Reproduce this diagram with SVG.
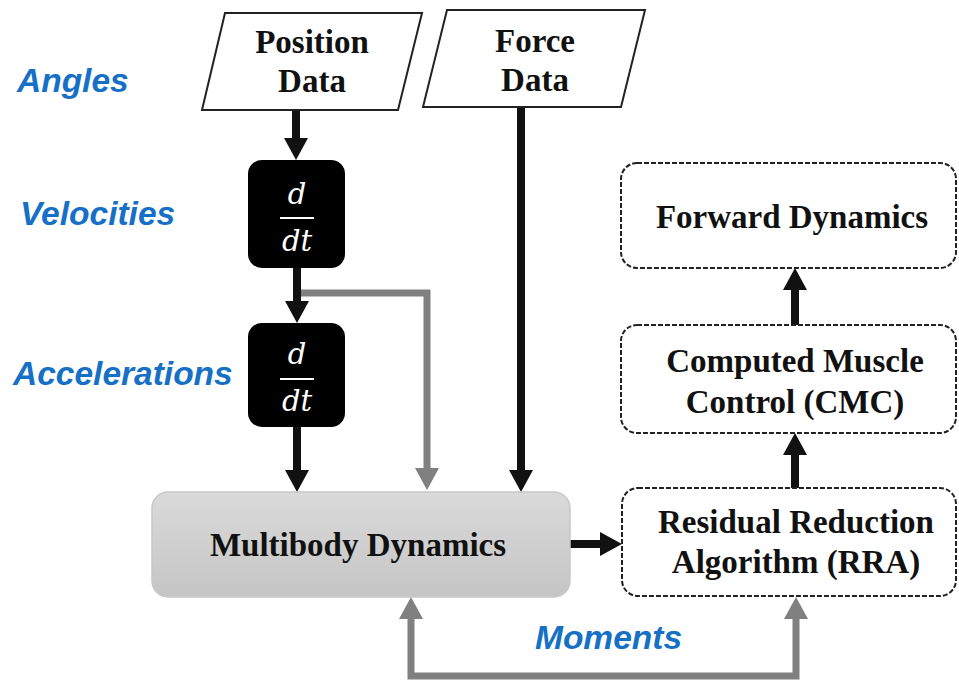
<svg xmlns="http://www.w3.org/2000/svg" width="959" height="681" viewBox="0 0 959 681">
<style>
.lbl{font-family:"Liberation Sans",Arial,sans-serif;font-weight:bold;font-style:italic;font-size:33.5px;fill:#1570c6}
.t{font-family:"Liberation Serif","Times New Roman",serif;font-weight:bold;font-size:33px;fill:#111;text-anchor:middle}
.m{font-family:"DejaVu Serif","Liberation Serif",serif;font-style:italic;font-size:29px;fill:#fff;text-anchor:middle}
.io{fill:#fff;stroke:#222;stroke-width:2}
.dash{fill:#fff;stroke:#222;stroke-width:2;stroke-dasharray:5 2}
.blk{fill:none;stroke:#111;stroke-width:8}
.gry{fill:none;stroke:#808080;stroke-width:7}
</style>
<defs>
<marker id="ab" markerUnits="userSpaceOnUse" markerWidth="22" markerHeight="24" viewBox="0 0 22 24" refX="0" refY="12" orient="auto-start-reverse"><path d="M0,0 L22,12 L0,24 z" fill="#111"/></marker>
<marker id="ag" markerUnits="userSpaceOnUse" markerWidth="22" markerHeight="24" viewBox="0 0 22 24" refX="0" refY="12" orient="auto-start-reverse"><path d="M0,0 L22,12 L0,24 z" fill="#808080"/></marker>
<linearGradient id="mg" x1="0" y1="0" x2="0" y2="1"><stop offset="0" stop-color="#dadada"/><stop offset="1" stop-color="#c5c5c5"/></linearGradient>
</defs>
<g id="labels">
<text class="lbl" x="17" y="92">Angles</text>
<text class="lbl" x="20" y="225">Velocities</text>
<text class="lbl" x="13" y="385">Accelerations</text>
<text class="lbl" x="535" y="649">Moments</text>
</g>
<g id="connectors">
<path class="gry" d="M300,293 H427 V468" marker-end="url(#ag)"/>
<path class="blk" d="M296,110 V138" marker-end="url(#ab)"/>
<path class="blk" d="M297,268 V301" marker-end="url(#ab)"/>
<path class="blk" d="M297,427 V470" marker-end="url(#ab)"/>
<path class="blk" d="M521,107 V470" marker-end="url(#ab)"/>
<path class="blk" d="M570,544 H600" marker-end="url(#ab)"/>
<path class="blk" d="M795,488 V455" marker-end="url(#ab)"/>
<path class="blk" d="M795,325 V290" marker-end="url(#ab)"/>
<path class="gry" d="M411,619 V676 H796 V619" marker-start="url(#ag)" marker-end="url(#ag)"/>
</g>
<g id="position-data">
<polygon class="io" points="225,13 422,13 398,110 202,110"/>
<text class="t" x="312" y="53">Position</text>
<text class="t" x="312" y="92">Data</text>
</g>
<g id="force-data">
<polygon class="io" points="447,10 645,10 621,107 423,107"/>
<text class="t" x="535" y="52">Force</text>
<text class="t" x="535" y="91">Data</text>
</g>
<g id="ddt1">
<rect x="248" y="160" width="97" height="108" rx="14" fill="#000"/>
<text class="m" x="297" y="204">d</text>
<line x1="280" y1="218" x2="314" y2="218" stroke="#fff" stroke-width="2"/>
<text class="m" x="297" y="251">dt</text>
</g>
<g id="ddt2">
<rect x="248" y="323" width="97" height="104" rx="14" fill="#000"/>
<text class="m" x="297" y="364">d</text>
<line x1="280" y1="379" x2="314" y2="379" stroke="#fff" stroke-width="2"/>
<text class="m" x="297" y="411">dt</text>
</g>
<g id="multibody">
<rect x="152" y="492" width="418" height="105" rx="16" fill="url(#mg)" stroke="#c8c8c8" stroke-width="1.5"/>
<text class="t" x="358" y="556">Multibody Dynamics</text>
</g>
<g id="rra">
<rect class="dash" x="622" y="488" width="334" height="108" rx="16"/>
<text class="t" x="796" y="533">Residual Reduction</text>
<text class="t" x="796" y="573">Algorithm (RRA)</text>
</g>
<g id="cmc">
<rect class="dash" x="621" y="325" width="335" height="108" rx="16"/>
<text class="t" x="795" y="372">Computed Muscle</text>
<text class="t" x="795" y="413">Control (CMC)</text>
</g>
<g id="forward">
<rect class="dash" x="621" y="163" width="335" height="105" rx="16"/>
<text class="t" x="792" y="228">Forward Dynamics</text>
</g>
</svg>
